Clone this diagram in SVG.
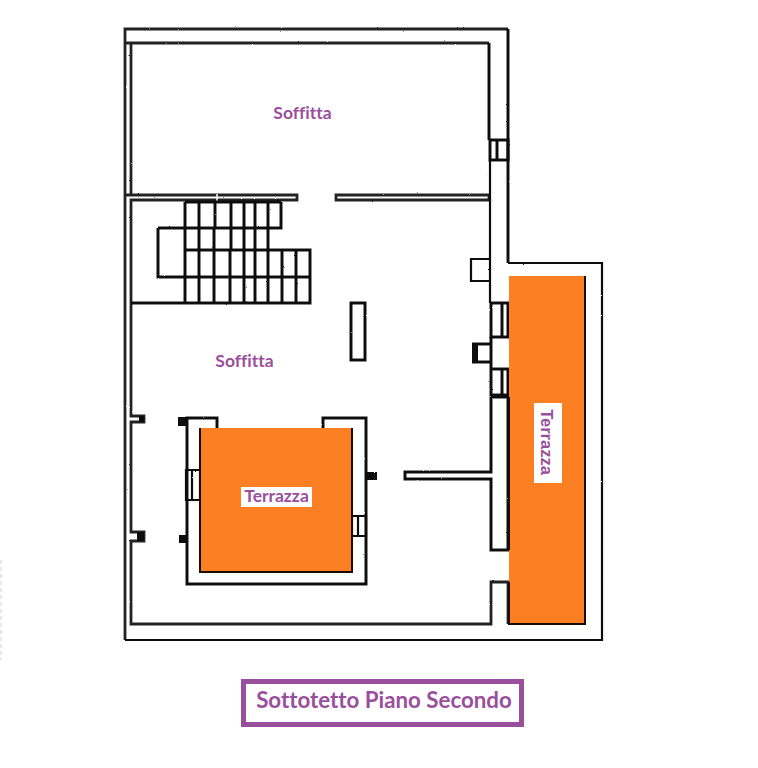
<svg xmlns="http://www.w3.org/2000/svg" width="758" height="768" viewBox="0 0 758 768">
<defs>
<filter id="rough" x="0" y="0" width="758" height="768" filterUnits="userSpaceOnUse">
<feTurbulence type="fractalNoise" baseFrequency="0.35" numOctaves="2" seed="4"/>
<feDisplacementMap in="SourceGraphic" scale="1.600" xChannelSelector="R" yChannelSelector="G"/>
</filter>
</defs>
<style>
.w{fill:none;stroke:#111;stroke-width:3}
.t{fill:none;stroke:#111;stroke-width:2.200}
.h{fill:none;stroke:#222;stroke-width:2.800}
.k{fill:#111}
.o{fill:#fd7f24}
.e{fill:none;stroke:#1a0b00;stroke-width:2}
.l{font-family:Lato,"Open Sans",sans-serif;font-weight:700;fill:#9a4f9c;font-variant-ligatures:none}
</style>
<rect width="758" height="768" fill="#fff"/>
<g id="faint"><path d="M1 560V660" stroke="#e8e8e8" stroke-width="2" fill="none" stroke-dasharray="4 3"/></g>
<g id="plan" filter="url(#rough)">
<g id="walls">
<path class="h" d="M125 640V29H508"/>
<path class="h" d="M125 43H489"/>
<path class="h" d="M131 43V194"/>
<path class="w" d="M508 29V263"/>
<path class="w" d="M489 43V140"/>
<path class="h" d="M125 195H297V200H131V416H144V422H131V532H144V541H131V624H491V582H508V624"/>
<path d="M217 194V201" stroke="#fff" stroke-width="1.500" fill="none"/>
<path class="h" d="M336 195H489V200H336Z"/>
<path class="t" d="M490 160V303"/>
<path class="w" d="M490 140H508V160H490V140M497 140V160"/>
<path class="t" d="M490 259H471V281H490"/>
<path class="w" d="M491 303H508V337H491ZM502 303V337"/>
<path class="w" d="M491 369H508V395H491ZM502 369V395M491 337V369"/>
<path class="w" d="M491 397H508V550H491V479H405V472H491V397"/>
<path class="t" d="M508 263H602V640H125"/>
<rect class="k" x="472" y="343" width="6" height="20"/>
<path class="w" d="M472 344H491M472 362H491"/>
<rect class="k" x="139" y="416" width="5" height="6"/>
<rect class="k" x="137" y="532" width="7" height="9"/>
</g>
<g id="stairs">
<path class="w" d="M131 303H310V250H185M158 228H281V202M158 228V277H310M185 202H281"/>
<path class="w" d="M185 202V303M199 202V228M215 202V228M231 202V228M244 202V228M255 202V228M268 202V228"/>
<path class="w" d="M199 228V250M214 228V250M231 228V250M244 228V250M255 228V250M268 228V250"/>
<path class="w" d="M199 250V303M214 250V303M230 250V303M244 250V303M255 250V303M268 250V303M282 250V303M296 250V303"/>
</g>
<g id="pillar"><rect class="w" x="351" y="303" width="14" height="57"/></g>
<g id="court">
<path class="w" d="M217 428V418H187V584H366V418H323V428"/>
<rect class="k" x="178" y="417" width="9" height="9"/>
<rect class="k" x="179" y="535" width="7" height="8"/>
<rect class="k" x="366" y="472" width="11" height="8"/>
<path class="t" d="M186 470H200V500H186ZM192 470V500"/>
<path class="t" d="M352 516H366V536H352ZM358 516V536"/>
</g>
</g>
<g id="terrace-court">
<rect x="200" y="428" width="152" height="144" class="o"/>
<path class="e" d="M200 428V572H352V428"/>
</g>
<g id="terrace-right">
<rect x="509" y="276" width="76" height="348" class="o"/>
<path class="e" d="M509 397V550M509 582V624H585V276" stroke-width="1.800"/>
</g>
<g id="labels">
<text class="l" x="302.500" y="119" font-size="17.500" text-anchor="middle">Soffitta</text>
<text class="l" x="244.500" y="367" font-size="17.500" text-anchor="middle">Soffitta</text>
<rect x="241" y="487" width="71" height="20" fill="#fff"/>
<text class="l" x="276.500" y="502" font-size="17.500" text-anchor="middle">Terrazza</text>
<rect x="534" y="403" width="28" height="80" fill="#fff"/>
<text x="541" y="442" transform="rotate(90 541 442)" font-family="'Liberation Sans',sans-serif" font-weight="700" font-size="16.500" fill="#9a4f9c" text-anchor="middle">Terrazza</text>
<rect x="243.500" y="681.500" width="278" height="43" fill="#fff" stroke="#9a4f9c" stroke-width="5"/>
<text class="l" x="384" y="708" font-size="22.300" text-anchor="middle">Sottotetto Piano Secondo</text>
</g>
</svg>
